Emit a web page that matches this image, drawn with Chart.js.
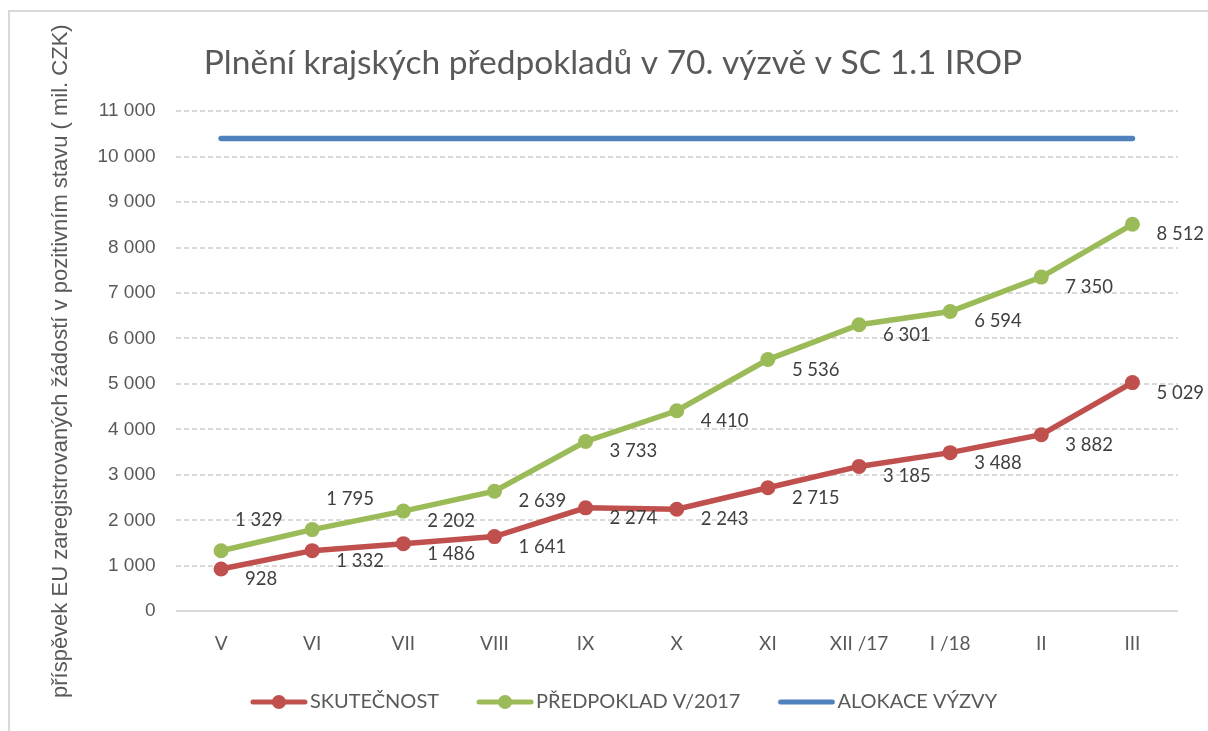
<!DOCTYPE html>
<html>
<head>
<meta charset="utf-8">
<script src="https://cdn.jsdelivr.net/npm/chart.js@4"></script>
<style>
  html, body { margin: 0; padding: 0; background: #fff; overflow: hidden; }
  .frame {
    position: absolute; left: 8px; top: 10px; width: 1200px; height: 721px;
    border-left: 2px solid #d9d9d9; border-top: 2px solid #d9d9d9;
  }
  canvas { display: block; }
</style>
</head>
<body>
<div class="frame"><canvas id="chart" width="1198" height="719"></canvas></div>
<script>
// data
const mesice = ["V", "VI", "VII", "VIII", "IX", "X", "XI", "XII /17", "I /18", "II", "III"]
const skutecnost = [928, 1332, 1486, 1641, 2274, 2243, 2715, 3185, 3488, 3882, 5029]
const predpoklad = [1329, 1795, 2202, 2639, 3733, 4410, 5536, 6301, 6594, 7350, 8512]
const alokace = [10400, 10400, 10400, 10400, 10400, 10400, 10400, 10400, 10400, 10400, 10400]

const RED = "#c0504d"
const GREEN = "#9bbb59"
const BLUE = "#4f81bd"
const TXT = "#595959"

const fmt = (v) => String(v).replace(/\B(?=(\d{3})+(?!\d))/g, " ")

// legend symbol: line with optional dot, transparent space on the left
// so that items sit further apart without a big vertical legend padding
const ICON_GAP = 29
const legendIcon = (color, dot) => {
    const c = document.createElement("canvas")
    c.width = ICON_GAP + 58
    c.height = 16
    const g = c.getContext("2d")
    g.strokeStyle = color
    g.lineWidth = 5
    g.lineCap = "round"
    g.beginPath()
    g.moveTo(ICON_GAP + 3, 8)
    g.lineTo(ICON_GAP + 55, 8)
    g.stroke()
    if (dot) {
        g.fillStyle = color
        g.beginPath()
        g.arc(ICON_GAP + 29, 8, 7, 0, Math.PI * 2)
        g.fill()
    }
    return c
}

// value labels next to the points
const pointLabels = {
    id: "pointLabels",
    afterDatasetsDraw(chart) {
        const ctx = chart.ctx
        ctx.save()
        ctx.font = "18.5px Lato"
        ctx.fillStyle = "#404040"
        ctx.textBaseline = "middle"
        ctx.textAlign = "left"
        ;[0, 1].forEach((di) => {
            const meta = chart.getDatasetMeta(di)
            const vals = chart.data.datasets[di].data
            meta.data.forEach((pt, i) => {
                let x = pt.x + 24
                let y = pt.y + 10
                if (di === 1 && i < 2) {
                    x = pt.x + 14
                    y = pt.y - 31
                }
                ctx.fillText(fmt(vals[i]), x, y)
            })
        })
        ctx.restore()
    }
}

const data = {
    labels: mesice,
    datasets: [
        {
            label: "SKUTEČNOST",
            data: skutecnost,
            borderColor: RED,
            backgroundColor: RED,
            borderWidth: 5.5,
            pointRadius: 7.5,
            pointHoverRadius: 7.5,
            pointBorderWidth: 0,
            tension: 0
        },
        {
            label: "PŘEDPOKLAD V/2017",
            data: predpoklad,
            borderColor: GREEN,
            backgroundColor: GREEN,
            borderWidth: 5.5,
            pointRadius: 7.5,
            pointHoverRadius: 7.5,
            pointBorderWidth: 0,
            tension: 0
        },
        {
            label: "ALOKACE VÝZVY",
            data: alokace,
            borderColor: BLUE,
            backgroundColor: BLUE,
            borderWidth: 5.5,
            borderCapStyle: "round",
            pointRadius: 0,
            tension: 0
        }
    ]
}

const icons = [legendIcon(RED, true), legendIcon(GREEN, true), legendIcon(BLUE, false)]

const config = {
    type: "line",
    data: data,
    plugins: [pointLabels],
    options: {
        responsive: false,
        animation: false,
        layout: { padding: { left: 38, right: 30, top: 0, bottom: 9 } },
        plugins: {
            title: {
                display: true,
                text: "Plnění krajských předpokladů v 70. výzvě v SC 1.1 IROP",
                color: TXT,
                font: { family: "Lato", size: 33.5, weight: "normal" },
                padding: { top: 31, bottom: 28 }
            },
            legend: {
                position: "bottom",
                labels: {
                    color: TXT,
                    font: { family: "Lato", size: 20 },
                    usePointStyle: true,
                    pointStyleWidth: ICON_GAP + 58 - 16,
                    padding: 16,
                    generateLabels: (chart) => {
                        const items = Chart.defaults.plugins.legend.labels.generateLabels(chart)
                        items.forEach((it, i) => { it.pointStyle = icons[i] })
                        return items
                    }
                }
            },
            tooltip: { enabled: false }
        },
        scales: {
            x: {
                offset: true,
                grid: { display: false, drawTicks: false },
                border: { display: false },
                ticks: { color: TXT, font: { family: "Lato", size: 19 }, padding: 21 }
            },
            y: {
                min: 0,
                max: 11000,
                ticks: {
                    stepSize: 1000,
                    color: TXT,
                    font: { family: "Liberation Sans", size: 19 },
                    padding: 20,
                    callback: (v) => fmt(v)
                },
                grid: {
                    color: "#d9d9d9",
                    lineWidth: 2,
                    drawTicks: false
                },
                border: { display: false, dash: (c) => (c.tick && c.tick.value === 0 ? [] : [5, 3]) },
                title: {
                    display: true,
                    text: "příspěvek EU zaregistrovaných žádostí v pozitivním stavu ( mil. CZK)",
                    color: TXT,
                    font: { family: "Liberation Sans", size: 22 },
                    padding: { top: 0, bottom: 3 }
                }
            }
        }
    }
}

window.currChart = new Chart(document.querySelector("#chart"), config)
</script>
</body>
</html>
